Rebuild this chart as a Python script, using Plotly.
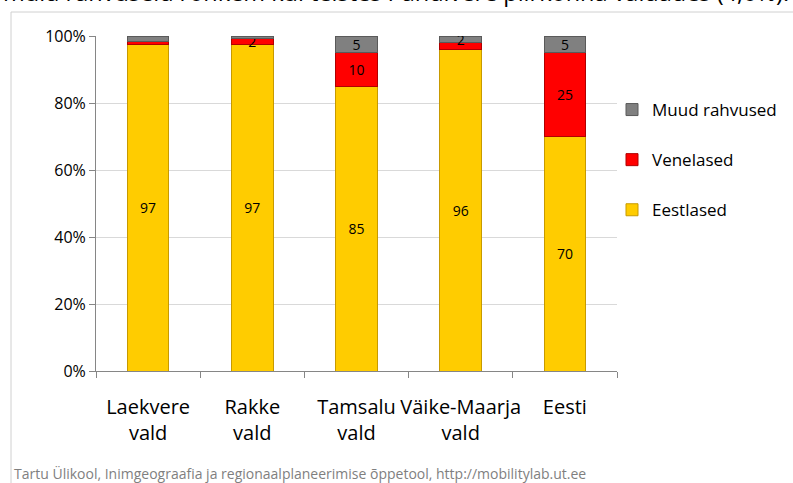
import plotly.graph_objects as go

categories = ["Laekvere<br>vald", "Rakke<br>vald", "Tamsalu<br>vald", "Väike-Maarja<br>vald", "Eesti"]
eestlased = [97.4, 97.4, 85, 96, 70]
venelased = [1.0, 2.0, 10, 2, 25]
muud = [1.6, 0.6, 5, 2, 5]
eest_labels = ["97", "97", "85", "96", "70"]
vene_labels = ["", "2", "10", "", "25"]
muud_labels = ["", "", "5", "2", "5"]

W, H = 793, 483
L, R, T, B = 96, 617, 36, 371

def px_x(px):
    return (px - L) / (R - L)

def px_y(py):
    return (B - py) / (B - T)

fig = go.Figure()
series = [
    ("Eestlased", eestlased, eest_labels, "#FFCC00", "#C79A00", 3),
    ("Venelased", venelased, vene_labels, "#FF0000", "#B00000", 2),
    ("Muud rahvused", muud, muud_labels, "#808080", "#5A5A5A", 1),
]
for name, vals, labels, col, edge, rank in series:
    fig.add_trace(go.Bar(
        x=categories, y=vals, name=name, text=labels,
        textposition="inside", insidetextanchor="middle", textangle=0,
        textfont=dict(family="Open Sans", size=14, color="black"),
        marker=dict(color=col, line=dict(color=edge, width=1)),
        width=0.4, legendgroup=name, legendrank=rank, hoverinfo="skip",
    ))

fig.update_layout(
    width=W, height=H,
    margin=dict(l=L, r=W - R, t=T, b=H - B, autoexpand=False),
    barmode="stack",
    plot_bgcolor="white", paper_bgcolor="white",
    font=dict(family="Open Sans", color="black"),
    uniformtext=dict(minsize=14, mode="show"),
    showlegend=True,
    legend=dict(
        x=px_x(612), y=px_y(92), xanchor="left", yanchor="top",
        traceorder="grouped", tracegroupgap=25,
        font=dict(family="Open Sans", size=17, color="black"),
        bgcolor="rgba(0,0,0,0)",
    ),
    yaxis=dict(
        range=[0, 100], dtick=20, ticksuffix="%",
        showgrid=True, gridcolor="#D9D9D9", gridwidth=1,
        showline=True, linecolor="#868686", linewidth=1,
        ticks="outside", ticklen=6, tickcolor="#868686",
        tickfont=dict(family="Open Sans", size=16, color="black"),
        zeroline=False, fixedrange=True, automargin=False,
    ),
    xaxis=dict(
        showline=True, linecolor="#868686", linewidth=1,
        ticks="outside", ticklen=6, tickcolor="#868686", tickson="boundaries",
        tickfont=dict(family="Open Sans", size=20, color="black"),
        tickangle=0, ticklabelstandoff=18,
        fixedrange=True, automargin=False,
    ),
)

# outer chart frame (partial, as in the screenshot)
fig.add_shape(type="line", xref="paper", yref="paper",
              x0=px_x(11), x1=px_x(W + 5), y0=px_y(12), y1=px_y(12),
              line=dict(color="#D0D0D0", width=1))
fig.add_shape(type="line", xref="paper", yref="paper",
              x0=px_x(11), x1=px_x(11), y0=px_y(12), y1=px_y(H + 5),
              line=dict(color="#D0D0D0", width=1))

# cut-off text line at the top of the screenshot
fig.add_annotation(
    text="muid rahvuseid rohkem kui teistes Pandivere piirkonna valdades (4,6%).",
    xref="paper", yref="paper", x=px_x(1), y=px_y(10),
    xanchor="left", yanchor="bottom", showarrow=False,
    font=dict(family="Open Sans", size=23.5, color="black"),
)

# source footer
fig.add_annotation(
    text="Tartu Ülikool, Inimgeograafia ja regionaalplaneerimise õppetool, http://mobilitylab.ut.ee",
    xref="paper", yref="paper", x=px_x(12), y=px_y(473),
    xanchor="left", yanchor="middle", showarrow=False,
    font=dict(family="Open Sans", size=14, color="#7F7F7F"),
)

fig.write_html("out.html", config={"displayModeBar": False},
               post_script="document.body.style.margin='0';document.body.style.overflow='hidden';")
